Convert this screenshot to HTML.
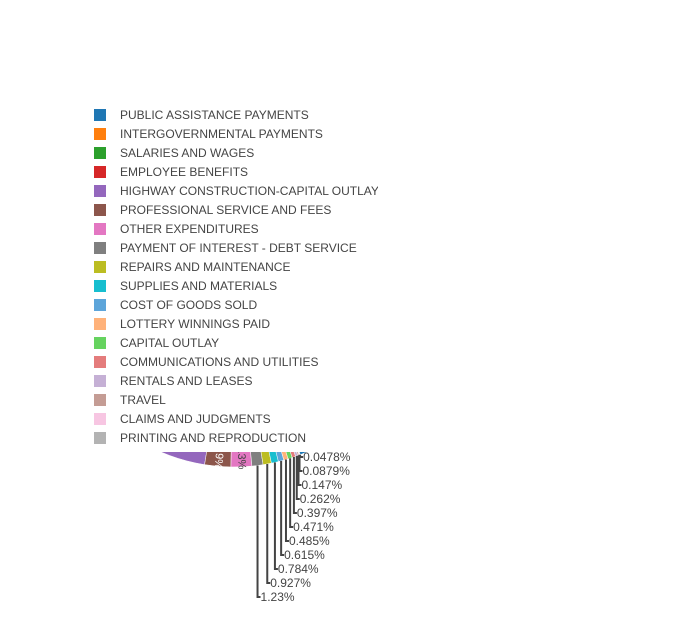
<!DOCTYPE html>
<html><head><meta charset="utf-8"><style>
html,body{margin:0;padding:0;background:#fff;}
svg{display:block;font-family:"Liberation Sans",Arial,sans-serif;}
</style></head><body>
<svg id="chart" width="700" height="621" viewBox="0 0 700 621">
<defs><clipPath id="legclip"><rect x="0" y="0" width="378" height="621"/></clipPath></defs>
<g id="pie"></g>
<g id="outlabels"></g>
<rect x="0" y="95" width="440" height="357" fill="#fff"/>
<g id="legend" clip-path="url(#legclip)"></g>
</svg>
<script>
const categories = ["PUBLIC ASSISTANCE PAYMENTS","INTERGOVERNMENTAL PAYMENTS","SALARIES AND WAGES","EMPLOYEE BENEFITS","HIGHWAY CONSTRUCTION-CAPITAL OUTLAY","PROFESSIONAL SERVICE AND FEES","OTHER EXPENDITURES","PAYMENT OF INTEREST - DEBT SERVICE","REPAIRS AND MAINTENANCE","SUPPLIES AND MATERIALS","COST OF GOODS SOLD","LOTTERY WINNINGS PAID","CAPITAL OUTLAY","COMMUNICATIONS AND UTILITIES","RENTALS AND LEASES","TRAVEL","CLAIMS AND JUDGMENTS","PRINTING AND REPRODUCTION"];
const values = [66, 25, 12, 5.55, 8, 2.9, 2.3, 1.23, 0.927, 0.784, 0.615, 0.485, 0.471, 0.397, 0.262, 0.147, 0.0879, 0.0478];
const colors = ["#1f77b4","#ff7f0e","#2ca02c","#d62728","#9467bd","#8c564b","#e377c2","#7f7f7f","#bcbd22","#17becf","#5da5da","#ffb27a","#66d35f","#e47c7c","#c5b0d5","#c49c94","#f7c6e2","#b3b3b3"];
const outLabels = ["","","","","","","","1.23%","0.927%","0.784%","0.615%","0.485%","0.471%","0.397%","0.262%","0.147%","0.0879%","0.0478%"];
const insideLabels = ["","","","","","2.9%","2.3%","","","","","","","","","","",""];

const NS="http://www.w3.org/2000/svg";
const cx=234, cy=282, R=185;
const endAngle=159*Math.PI/180;
const total=values.reduce((a,b)=>a+b,0);
function pt(a,r){return [cx+r*Math.sin(a), cy-r*Math.cos(a)];}
const pie=document.getElementById('pie');
const outG=document.getElementById('outlabels');
let a=endAngle+2*Math.PI;
const mids=[];
values.forEach((v,i)=>{
  const sweep=v/total*2*Math.PI;
  const a0=a, a1=a-sweep;
  const p0=pt(a0,R), p1=pt(a1,R);
  const large=sweep>Math.PI?1:0;
  const path=document.createElementNS(NS,'path');
  path.setAttribute('d',`M${cx},${cy}L${p0[0]},${p0[1]}A${R},${R} 0 ${large} 0 ${p1[0]},${p1[1]}Z`);
  path.setAttribute('fill',colors[i]);
  path.setAttribute('stroke','#fff');
  path.setAttribute('stroke-width','0.5');
  
  
  pie.appendChild(path);
  mids.push((a0+a1)/2);
  a=a1;
});
insideLabels.forEach((t,i)=>{
  if(!t) return;
  const p=pt(mids[i],R-10);
  const tx=document.createElementNS(NS,'text');
  tx.setAttribute('x',p[0]);tx.setAttribute('y',p[1]);
  tx.setAttribute('font-size','11');tx.setAttribute('fill',i==5?'#fff':'#444');
  tx.setAttribute('text-anchor','middle');tx.setAttribute('dominant-baseline','middle');
  tx.setAttribute('transform',`rotate(${mids[i]*180/Math.PI-90} ${p[0]} ${p[1]})`);
  tx.textContent=t;
  
  
  pie.appendChild(tx);
});
let k=0;
for(let i=values.length-1;i>=0;i--){
  if(!outLabels[i]) continue;
  const p=pt(mids[i],R);
  const ly=457+14*k;
  const line=document.createElementNS(NS,'path');
  line.setAttribute('d',`M${p[0]},${p[1]}L${p[0]},${ly}L${p[0]+3},${ly}`);
  line.setAttribute('stroke','#444');line.setAttribute('stroke-width','2');line.setAttribute('fill','none');
  
  
  outG.appendChild(line);
  const tx=document.createElementNS(NS,'text');
  tx.setAttribute('x',p[0]+3);tx.setAttribute('y',ly+4);
  tx.setAttribute('font-size','12');tx.setAttribute('fill','#444');
  tx.textContent=outLabels[i];
  
  
  outG.appendChild(tx);
  k++;
}
const lg=document.getElementById('legend');
categories.forEach((c,i)=>{
  const y=115+19*i;
  const g=document.createElementNS(NS,'g');
  
  
  const r=document.createElementNS(NS,'rect');
  r.setAttribute('x',94);r.setAttribute('y',y-6);r.setAttribute('width',12);r.setAttribute('height',12);
  r.setAttribute('fill',colors[i]);
  
  
  g.appendChild(r);
  const t=document.createElementNS(NS,'text');
  t.setAttribute('x',120);t.setAttribute('y',y+4);
  t.setAttribute('font-size','12');t.setAttribute('fill','#444');
  t.textContent=c;
  
  
  g.appendChild(t);
  lg.appendChild(g);
});
</script>
</body></html>
